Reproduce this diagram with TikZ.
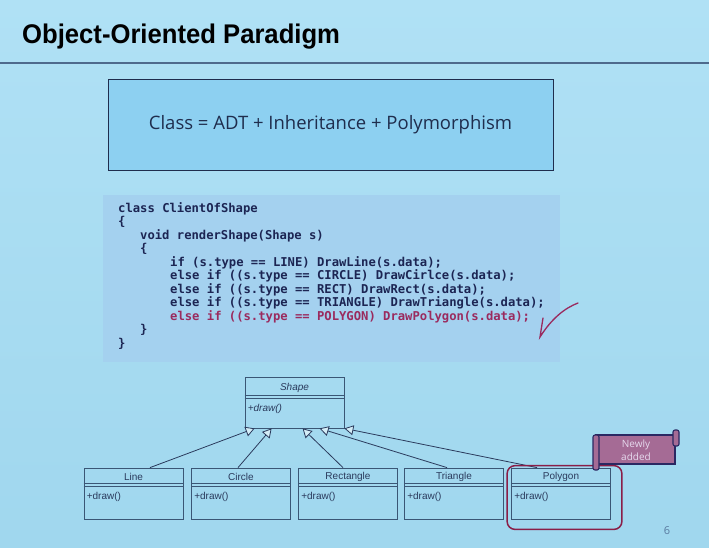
\documentclass[tikz,border=0pt]{standalone}
\usepackage{fontspec}
\setmainfont{Open Sans}
\newfontfamily\titlefont{Liberation Sans}
\newfontfamily\codefont{DejaVu Sans Mono}
\newfontfamily\umlfont{Liberation Sans}
\usetikzlibrary{arrows.meta,positioning,calc}
\definecolor{bgtop}{HTML}{B0E1F5}
\definecolor{bgbot}{HTML}{A0D7EE}
\definecolor{rulecol}{HTML}{4E6A8C}
\definecolor{eqfill}{HTML}{8DD0F1}
\definecolor{eqline}{HTML}{1F2D4D}
\definecolor{codefill}{HTML}{A4D1EF}
\definecolor{codeink}{HTML}{1C2553}
\definecolor{newink}{HTML}{9A2A5E}
\definecolor{umlline}{HTML}{3A5675}
\definecolor{umlink}{HTML}{2A3A5C}
\definecolor{hilite}{HTML}{8A1E48}
\definecolor{bannerfill}{HTML}{A56B95}
\definecolor{bannerline}{HTML}{2A2862}
\definecolor{bannertext}{HTML}{E6DAEE}
\definecolor{pagenum}{HTML}{5A7BA0}
\tikzset{
  umlbox/.style  = {draw=umlline, line width=0.8pt, minimum width=99pt,
                    minimum height=51pt, inner sep=0pt},
  umlname/.style = {font=\umlfont\fontsize{10}{11}\selectfont, text=umlink, inner sep=0pt},
  umlabs/.style  = {font=\umlfont\itshape\fontsize{10}{11}\selectfont, text=umlink, inner sep=0pt},
  umlop/.style   = {umlname, anchor=west},
  umlsep/.style  = {draw=umlline, line width=0.7pt},
  inherit/.style = {draw=umlink, line width=0.8pt,
                    -{Triangle[length=9pt,width=10pt,fill=white!55!bgbot]}},
}

\begin{document}
\begin{tikzpicture}[x=1pt,y=-1pt]
\useasboundingbox (0,0) rectangle (709,547);
\shade[top color=bgtop, bottom color=bgbot] (0,0) rectangle (709,547);
% title
\node[font=\titlefont\bfseries\fontsize{27}{30}\selectfont, anchor=west, inner sep=0pt] (title) at (22,37)
  {\scalebox{0.95}[1]{Object-Oriented Paradigm}};
\draw[rulecol, line width=1.8pt] (0,63) -- (709,63);
% equation box
\node[draw=eqline, fill=eqfill, line width=1pt, minimum width=445pt, minimum height=91pt,
      font=\fontsize{18.5}{22}\selectfont, text=eqline] (classeq) at (330.5,125)
  {Class = ADT + Inheritance + Polymorphism};
% code
\node[fill=codefill, minimum width=457pt, minimum height=167pt, inner sep=0pt] (codebox) at (331.5,278.5) {};
\node[font=\codefont\bfseries\fontsize{12.2}{13.5}\selectfont, text=codeink, align=left,
      anchor=north west, inner sep=0pt] (code) at (118,202)
  {class ClientOfShape\\
   \{\\
   \hspace*{22pt}void renderShape(Shape s)\\
   \hspace*{22pt}\{\\
   \hspace*{52pt}if (s.type == LINE) DrawLine(s.data);\\
   \hspace*{52pt}else if ((s.type == CIRCLE) DrawCirlce(s.data);\\
   \hspace*{52pt}else if ((s.type == RECT) DrawRect(s.data);\\
   \hspace*{52pt}else if ((s.type == TRIANGLE) DrawTriangle(s.data);\\
   \hspace*{52pt}\textcolor{newink}{else if ((s.type == POLYGON) DrawPolygon(s.data);}\\
   \hspace*{22pt}\}\\
   \}};
\draw[newink, line width=1.3pt, line cap=round] (543,318) .. controls (542,328) .. (540,337)
  .. controls (552,318) and (565,308) .. (578,303);
% class diagram
\node[umlbox] (shape) at (294.5,402.5) {};
\node[umlabs] (shape-name) at ($(shape.north)+(0,11)$) {Shape};
\draw[umlsep] ($(shape.north west)+(0,19)$) -- ($(shape.north east)+(0,19)$);
\draw[umlsep] ($(shape.north west)+(0,21.5)$) -- ($(shape.north east)+(0,21.5)$);
\node[umlabs, anchor=west] (shape-op) at ($(shape.north west)+(3,32)$) {+draw()};
\foreach \nm/\lbl/\x in {line/Line/133.5, circle/Circle/241, rect/Rectangle/348,
                         tri/Triangle/454, poly/Polygon/561}{
  \node[umlbox] (\nm) at (\x,493.5) {};
  \node[umlname] (\nm-name) at ($(\nm.north)+(0,9)$) {\lbl};
  \draw[umlsep] ($(\nm.north west)+(0,16)$) -- ($(\nm.north east)+(0,16)$);
  \draw[umlsep] ($(\nm.north west)+(0,18.5)$) -- ($(\nm.north east)+(0,18.5)$);
  \node[umlop] (\nm-op) at ($(\nm.north west)+(3,29)$) {+draw()};
}
\draw[inherit] ([xshift=16.5pt]line.north) -- ([xshift=10pt]shape.south west);
\draw[inherit] ([xshift=-3pt]circle.north) -- ([xshift=27pt]shape.south west);
\draw[inherit] ([xshift=-5pt]rect.north) -- ([xshift=58pt]shape.south west);
\draw[inherit] ([xshift=-7pt]tri.north) -- ([xshift=75pt]shape.south west);
\draw[inherit] ([xshift=-24pt]poly.north) -- (shape.south east);
\draw[hilite, line width=1.5pt, rounded corners=8pt]
  ([shift={(-4pt,2pt)}]poly.north west) rectangle ([shift={(11pt,-10pt)}]poly.south east);
% banner
\draw[fill=bannerfill, draw=bannerline, line width=1.1pt] (596,435) rectangle (675,464);
\draw[fill=bannerfill, draw=bannerline, line width=1.1pt, rounded corners=2pt] (593,435) rectangle (599,470);
\draw[fill=bannerfill, draw=bannerline, line width=1.1pt, rounded corners=2pt] (673,430) rectangle (679,446);
\node[font=\fontsize{10}{12.5}\selectfont, text=bannertext, align=center] (newly) at (636,450) {Newly\\added};
\node[text=pagenum, font=\fontsize{11}{12}\selectfont] (pagenum) at (667,531) {6};
\end{tikzpicture}
\end{document}
